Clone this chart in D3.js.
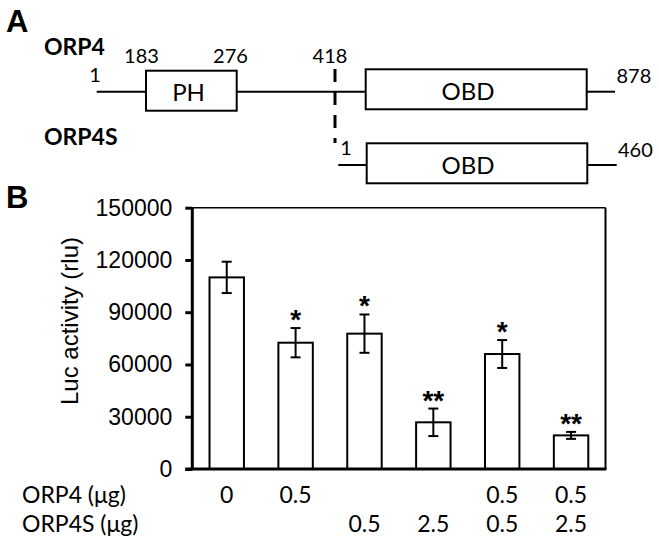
<!DOCTYPE html>
<html><head><meta charset="utf-8">
<script src="https://cdn.jsdelivr.net/npm/d3@7"></script>
<style>html,body{margin:0;padding:0;background:#fff;}svg{display:block;}</style>
</head><body>
<script>
// ---- Data ----
const conditions = ["c1","c2","c3","c4","c5","c6"];
const lucValues = [110000, 72500, 77700, 26800, 66000, 19300];
const lucErrors = [9000, 8400, 11000, 7900, 8000, 2000];
const significance = ["", "*", "*", "**", "*", "**"];
const yTicks = [0, 30000, 60000, 90000, 120000, 150000];
const rowLabels = ["ORP4 (μg)", "ORP4S (μg)"];
const orp4Amounts = ["0", "0.5", "", "", "0.5", "0.5"];
const orp4sAmounts = ["", "", "0.5", "2.5", "0.5", "2.5"];
// Panel A domain annotations
const orp4Marks = ["1", "183", "276", "418", "878"];
const orp4sMarks = ["1", "460"];
const domainNames = ["PH", "OBD"];

const W = 659, H = 548;
const svg = d3.select("body").append("svg").attr("width", W).attr("height", H);
const calib = "Lato, 'Open Sans', sans-serif";
const arial = "'Liberation Sans', Arial, sans-serif";

// ---- Panel A ----
const A = svg.append("g");
A.append("text").attr("x", 6).attr("y", 32).text("A")
  .style("font-family", arial).style("font-weight", "bold").style("font-size", "31px");
A.append("text").attr("x", 44).attr("y", 55).text("ORP4")
  .style("font-family", calib).style("font-weight", "bold").style("font-size", "23px");
A.append("text").attr("x", 44).attr("y", 145).text("ORP4S")
  .style("font-family", calib).style("font-weight", "bold").style("font-size", "23px");

const lineY1 = 91.7, lineY2 = 165;
const lw = 2;
function hline(x1, x2, y){ A.append("line").attr("x1",x1).attr("x2",x2).attr("y1",y).attr("y2",y).attr("stroke","#000").attr("stroke-width",lw); }
function box(x1, x2, y1, y2, label, lx){
  A.append("rect").attr("x",x1).attr("y",y1).attr("width",x2-x1).attr("height",y2-y1)
    .attr("fill","#fff").attr("stroke","#000").attr("stroke-width",lw);
  A.append("text").attr("x",lx).attr("y",y2-9.5).attr("text-anchor","middle").text(label)
    .style("font-family", calib).style("font-size","24px");
}
hline(96.7, 146, lineY1);
hline(236.7, 365.7, lineY1);
hline(586.7, 615, lineY1);
box(146, 236.7, 70.7, 110.7, domainNames[0], 188.5);
box(365.7, 586.7, 69.3, 109.3, domainNames[1], 468);
hline(338.3, 366.7, lineY2);
hline(587.3, 616.7, lineY2);
box(366.7, 587.3, 143.3, 183.3, domainNames[1], 468);
A.append("line").attr("x1",335).attr("x2",335).attr("y1",69).attr("y2",143)
  .attr("stroke","#000").attr("stroke-width",3).attr("stroke-dasharray","13,10");

function num(t, x, y, anchor){
  A.append("text").attr("x",x).attr("y",y).attr("text-anchor",anchor||"middle").text(t)
    .style("font-family", calib).style("font-size","20px");
}
num(orp4Marks[0], 95, 82);
num(orp4Marks[1], 141.5, 62.7);
num(orp4Marks[2], 230.5, 62.7);
num(orp4Marks[3], 330, 63);
num(orp4Marks[4], 616.5, 82.7, "start");
num(orp4sMarks[0], 346, 155);
num(orp4sMarks[1], 618, 156.7, "start");

// ---- Panel B ----
svg.append("text").attr("x", 6).attr("y", 208).text("B")
  .style("font-family", arial).style("font-weight", "bold").style("font-size", "31px");

const x0 = 192.3, x1 = 605.5, yTop = 207.7, yBot = 469;
const x = d3.scaleBand().domain(conditions).range([x0, x1]).paddingInner(0.5).paddingOuter(0.25);
const y = d3.scaleLinear().domain([0, 150000]).range([yBot, yTop]);

const B = svg.append("g");
// frame top and right
B.append("line").attr("x1",x0).attr("x2",x1).attr("y1",yTop).attr("y2",yTop).attr("stroke","#000").attr("stroke-width",1.5);
B.append("line").attr("x1",x1).attr("x2",x1).attr("y1",yTop).attr("y2",yBot).attr("stroke","#000").attr("stroke-width",2);

// bars
B.selectAll("rect.bar").data(conditions).join("rect").attr("class","bar")
  .attr("x", d => x(d)).attr("width", x.bandwidth())
  .attr("y", (d,i) => y(lucValues[i])).attr("height", (d,i) => y(0) - y(lucValues[i]))
  .attr("fill","#fff").attr("stroke","#000").attr("stroke-width",2);

// error bars
const cap = 5;
const eg = B.selectAll("g.err").data(conditions).join("g").attr("class","err")
  .attr("transform", d => `translate(${x(d) + x.bandwidth()/2},0)`);
eg.append("line").attr("y1",(d,i)=>y(lucValues[i]+lucErrors[i])).attr("y2",(d,i)=>y(lucValues[i]-lucErrors[i]))
  .attr("stroke","#000").attr("stroke-width",2);
eg.append("line").attr("x1",-cap).attr("x2",cap).attr("y1",(d,i)=>y(lucValues[i]+lucErrors[i])).attr("y2",(d,i)=>y(lucValues[i]+lucErrors[i]))
  .attr("stroke","#000").attr("stroke-width",2);
eg.append("line").attr("x1",-cap).attr("x2",cap).attr("y1",(d,i)=>y(lucValues[i]-lucErrors[i])).attr("y2",(d,i)=>y(lucValues[i]-lucErrors[i]))
  .attr("stroke","#000").attr("stroke-width",2);
eg.append("text").attr("text-anchor","middle").attr("y",(d,i)=>y(lucValues[i]+lucErrors[i]) + 1)
  .text((d,i)=>significance[i])
  .style("font-family", arial).style("font-weight","bold").style("font-size","28px");

// y axis
const yAxis = d3.axisLeft(y).tickValues(yTicks).tickFormat(d3.format("d")).tickSize(7).tickPadding(13);
const ag = B.append("g").attr("transform",`translate(${x0},0)`).call(yAxis);
ag.select(".domain").attr("d", `M0,${yTop}V${yBot}`).attr("stroke","#000").attr("stroke-width",3);
ag.selectAll(".tick line").attr("stroke","#000").attr("stroke-width",3);
ag.selectAll(".tick text").style("font-family", arial).style("font-size","23px").attr("fill","#000");
// baseline
B.append("line").attr("x1",x0-7).attr("x2",x1+1).attr("y1",yBot).attr("y2",yBot).attr("stroke","#000").attr("stroke-width",3);

// y title
svg.append("text").attr("transform","translate(78,321) rotate(-90)").attr("text-anchor","middle")
  .text("Luc activity (rlu)").style("font-family", arial).style("font-size","24px");

// ---- table ----
const rows = [orp4Amounts, orp4sAmounts];
const rowY = [503, 532];
rows.forEach((r, ri) => {
  svg.append("text").attr("x", 22).attr("y", rowY[ri]).text(rowLabels[ri])
    .style("font-family", calib).style("font-size","23px");
  svg.selectAll(null).data(conditions).join("text")
    .attr("x", d => x(d) + x.bandwidth()/2).attr("y", rowY[ri]).attr("text-anchor","middle")
    .text((d,i) => r[i]).style("font-family", calib).style("font-size","23px");
});
</script>
</body></html>
